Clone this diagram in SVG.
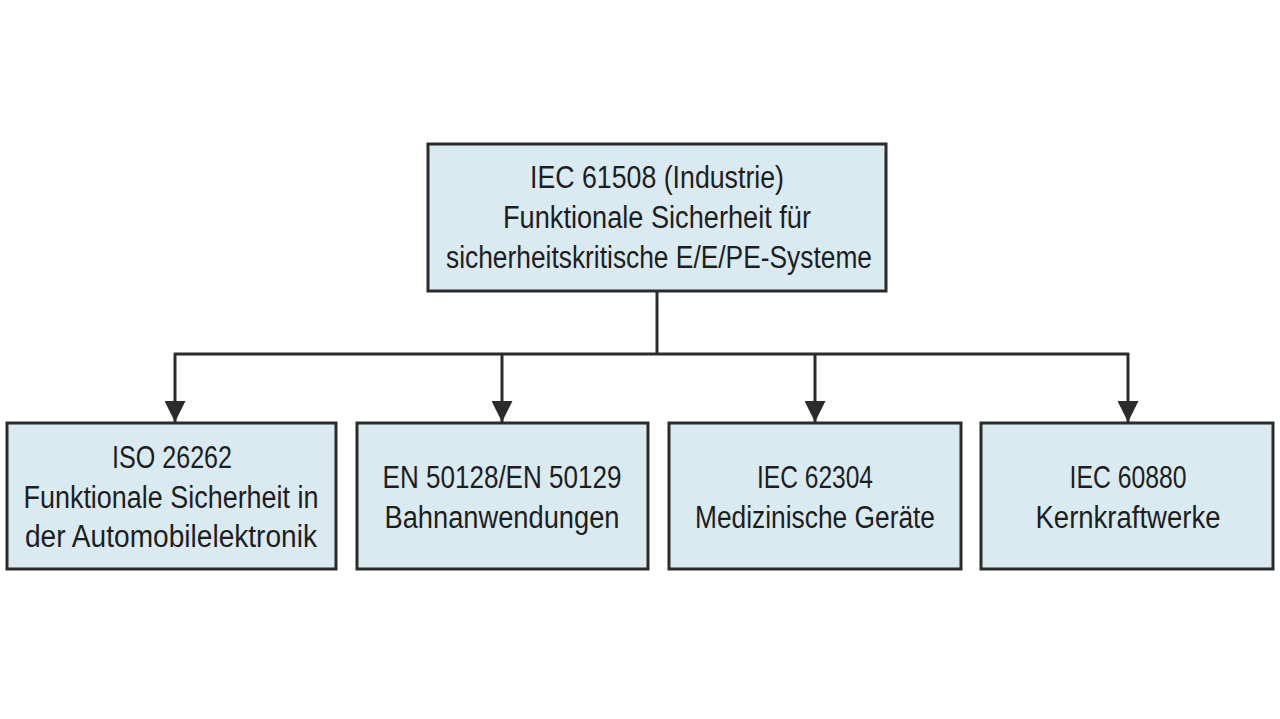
<svg xmlns="http://www.w3.org/2000/svg" width="1280" height="719" viewBox="0 0 1280 719">
<defs>
<style>
.box{fill:#d9eaf1;stroke:#2b2b2b;stroke-width:3}
.t{font-family:"Liberation Sans",Arial,sans-serif;font-size:31px;fill:#1e1e1e;text-anchor:middle}
.c{fill:none;stroke:#2b2b2b;stroke-width:3}
</style>
<marker id="ah" viewBox="0 0 10 10" refX="10" refY="5" markerWidth="7" markerHeight="7" markerUnits="strokeWidth" orient="auto">
<path d="M0,0 L10,5 L0,10 z" fill="#2b2b2b"/>
</marker>
</defs>
<rect width="1280" height="719" fill="#ffffff"/>
<g id="connectors">
<line class="c" x1="657" y1="291" x2="657" y2="354"/>
<line class="c" x1="174" y1="354" x2="1129" y2="354"/>
<line class="c" x1="175" y1="353" x2="175" y2="422" marker-end="url(#ah)"/>
<line class="c" x1="502" y1="353" x2="502" y2="422" marker-end="url(#ah)"/>
<line class="c" x1="815" y1="353" x2="815" y2="422" marker-end="url(#ah)"/>
<line class="c" x1="1128" y1="353" x2="1128" y2="422" marker-end="url(#ah)"/>
</g>
<g id="iec61508">
<rect class="box" x="428" y="144" width="458" height="147"/>
<text class="t" x="657" y="188" textLength="254" lengthAdjust="spacingAndGlyphs">IEC 61508 (Industrie)</text>
<text class="t" x="657" y="228" textLength="308" lengthAdjust="spacingAndGlyphs">Funktionale Sicherheit für</text>
<text class="t" x="659" y="268" textLength="426" lengthAdjust="spacingAndGlyphs">sicherheitskritische E/E/PE-Systeme</text>
</g>
<g id="iso26262">
<rect class="box" x="7" y="423" width="329" height="146"/>
<text class="t" x="172" y="468" textLength="120" lengthAdjust="spacingAndGlyphs">ISO 26262</text>
<text class="t" x="171" y="508" textLength="295" lengthAdjust="spacingAndGlyphs">Funktionale Sicherheit in</text>
<text class="t" x="171" y="547" textLength="292" lengthAdjust="spacingAndGlyphs">der Automobilelektronik</text>
</g>
<g id="en50128">
<rect class="box" x="357" y="423" width="291" height="146"/>
<text class="t" x="502" y="488" textLength="239" lengthAdjust="spacingAndGlyphs">EN 50128/EN 50129</text>
<text class="t" x="502" y="528" textLength="235" lengthAdjust="spacingAndGlyphs">Bahnanwendungen</text>
</g>
<g id="iec62304">
<rect class="box" x="669" y="423" width="292" height="146"/>
<text class="t" x="815" y="488" textLength="116" lengthAdjust="spacingAndGlyphs">IEC 62304</text>
<text class="t" x="815" y="528" textLength="240" lengthAdjust="spacingAndGlyphs">Medizinische Geräte</text>
</g>
<g id="iec60880">
<rect class="box" x="981" y="423" width="292" height="146"/>
<text class="t" x="1128" y="488" textLength="117" lengthAdjust="spacingAndGlyphs">IEC 60880</text>
<text class="t" x="1128" y="528" textLength="185" lengthAdjust="spacingAndGlyphs">Kernkraftwerke</text>
</g>
</svg>
